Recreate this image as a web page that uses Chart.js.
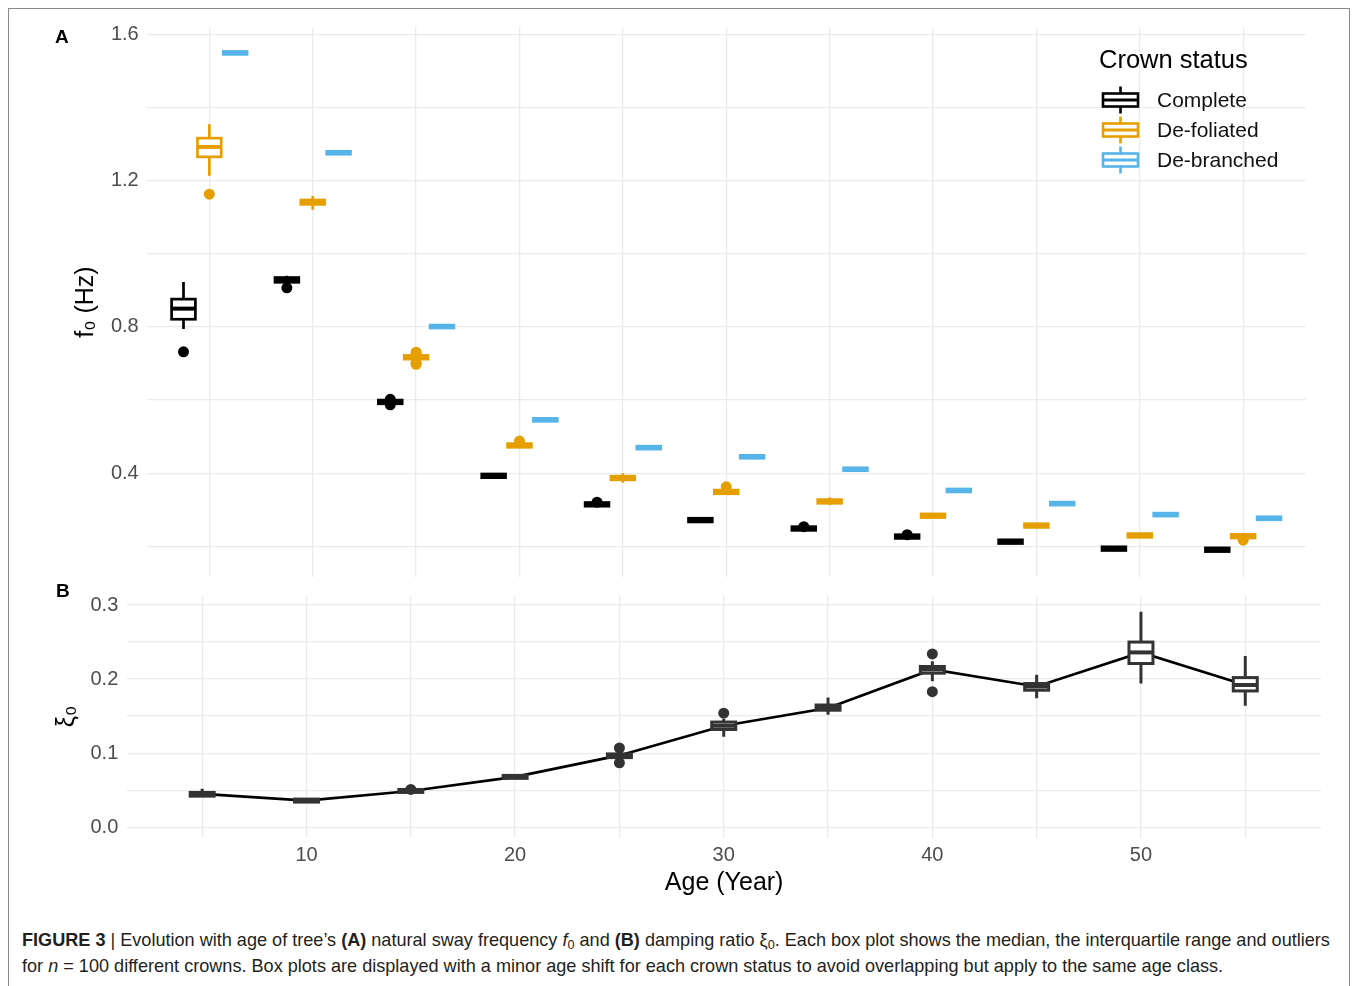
<!DOCTYPE html>
<html>
<head>
<meta charset="utf-8">
<title>Crown status: sway frequency and damping with age</title>
<script src="https://cdn.jsdelivr.net/npm/chart.js@4.4.1/dist/chart.umd.min.js"></script>
<style>
  html, body { margin: 0; padding: 0; background: #fff; width: 1357px; height: 986px; overflow: hidden; }
  #frame { position: absolute; left: 8px; top: 8px; width: 1342px; height: 1200px; border: 1px solid #8a8a8a; box-sizing: border-box; }
  canvas { position: absolute; left: 0; }
  #cA { top: 0; }
  #cB { top: 585px; }
  .tag { position: absolute; font: bold 19px "Liberation Sans", Arial, sans-serif; line-height: 19px; color: #000; }
  #caption { position: absolute; left: 22px; top: 927px; width: 1330px; white-space: nowrap;
             font: 18.1px "Liberation Sans Narrow", "Liberation Sans", Arial, sans-serif; line-height: 26px; color: #231f20; }
  #caption sub { font-size: 70%; line-height: 0; vertical-align: -0.25em; }
</style>
</head>
<body>
<div id="frame"></div>
<canvas id="cA" width="1357" height="585"></canvas>
<canvas id="cB" width="1357" height="315"></canvas>
<div class="tag" style="left:55px;top:27px;">A</div>
<div class="tag" style="left:56px;top:581px;">B</div>
<div id="caption"><b>FIGURE 3</b> | Evolution with age of tree’s <b>(A)</b> natural sway frequency <i>f</i><sub>0</sub> and <b>(B)</b> damping ratio ξ<sub>0</sub>. Each box plot shows the median, the interquartile range and outliers<br>for <i>n</i> = 100 different crowns. Box plots are displayed with a minor age shift for each crown status to avoid overlapping but apply to the same age class.</div>

<script>
// ---- Age classes and axis ticks ----
const ages = [5, 10, 15, 20, 25, 30, 35, 40, 45, 50, 55];
const ageTicks = [5, 10, 15, 20, 25, 30, 35, 40, 45, 50, 55];
const ageTickLabels = ['', '10', '', '20', '', '30', '', '40', '', '50', ''];
const f0Ticks = [0.2, 0.4, 0.6, 0.8, 1.0, 1.2, 1.4, 1.6];
const f0TickLabels = ['', '0.4', '', '0.8', '', '1.2', '', '1.6'];
const dampTicks = [0, 0.05, 0.1, 0.15, 0.2, 0.25, 0.3];
const dampTickLabels = ['0.0', '', '0.1', '', '0.2', '', '0.3'];

const seriesNames = ['Complete', 'De-foliated', 'De-branched'];

// ---- Natural sway frequency f0 (Hz): box plot summaries per crown status ----
const completeMed = [0.850, 0.928, 0.595, 0.393, 0.315, 0.272, 0.249, 0.227, 0.213, 0.194, 0.191];
const completeQ1  = [0.821, 0.922, 0.590, 0.388, 0.310, 0.267, 0.244, 0.222, 0.208, 0.189, 0.186];
const completeQ3  = [0.876, 0.935, 0.600, 0.398, 0.320, 0.277, 0.254, 0.232, 0.218, 0.199, 0.196];
const completeLo  = [0.794, 0.918, 0.588, 0.386, 0.308, 0.265, 0.242, 0.220, 0.206, 0.187, 0.184];
const completeHi  = [0.923, 0.940, 0.601, 0.400, 0.321, 0.279, 0.256, 0.233, 0.220, 0.201, 0.198];
const completeOut = [[5, 0.732], [10, 0.907], [15, 0.602], [15, 0.587], [25, 0.321], [35, 0.254], [40, 0.232]];

const defoliatedMed = [1.292, 1.141, 0.717, 0.476, 0.387, 0.349, 0.323, 0.284, 0.257, 0.230, 0.228];
const defoliatedQ1  = [1.265, 1.135, 0.712, 0.471, 0.382, 0.344, 0.318, 0.279, 0.252, 0.225, 0.223];
const defoliatedQ3  = [1.316, 1.147, 0.722, 0.481, 0.392, 0.354, 0.328, 0.289, 0.262, 0.235, 0.233];
const defoliatedLo  = [1.213, 1.120, 0.710, 0.469, 0.374, 0.342, 0.313, 0.277, 0.250, 0.223, 0.221];
const defoliatedHi  = [1.354, 1.158, 0.724, 0.483, 0.400, 0.356, 0.334, 0.291, 0.264, 0.237, 0.235];
const defoliatedOut = [[5, 1.163], [15, 0.731], [15, 0.726], [15, 0.703], [15, 0.698], [20, 0.488], [30, 0.363], [55, 0.217]];

const debranchedMed = [1.549, 1.276, 0.801, 0.546, 0.470, 0.445, 0.411, 0.353, 0.317, 0.287, 0.277];
const debranchedQ1  = [1.545, 1.272, 0.797, 0.542, 0.466, 0.441, 0.407, 0.349, 0.313, 0.283, 0.273];
const debranchedQ3  = [1.553, 1.280, 0.805, 0.550, 0.474, 0.449, 0.415, 0.357, 0.321, 0.291, 0.281];
const debranchedLo  = [1.543, 1.270, 0.795, 0.540, 0.464, 0.439, 0.405, 0.347, 0.311, 0.281, 0.271];
const debranchedHi  = [1.555, 1.282, 0.807, 0.552, 0.476, 0.451, 0.417, 0.359, 0.323, 0.293, 0.283];
const debranchedOut = [];

// ---- Damping ratio xi0: box plot summaries (all crowns) ----
const dampMed = [0.045, 0.036, 0.049, 0.068, 0.097, 0.137, 0.161, 0.213, 0.190, 0.236, 0.192];
const dampQ1  = [0.042, 0.034, 0.047, 0.066, 0.094, 0.132, 0.158, 0.208, 0.185, 0.221, 0.184];
const dampQ3  = [0.047, 0.038, 0.051, 0.070, 0.099, 0.142, 0.165, 0.217, 0.194, 0.250, 0.202];
const dampLo  = [0.041, 0.033, 0.046, 0.065, 0.092, 0.122, 0.152, 0.197, 0.174, 0.194, 0.164];
const dampHi  = [0.052, 0.039, 0.052, 0.071, 0.101, 0.146, 0.175, 0.224, 0.206, 0.291, 0.231];
const dampOut = [[15, 0.051], [25, 0.107], [25, 0.087], [30, 0.154], [40, 0.234], [40, 0.183]];

// ---- Styling ----
const FONT = '"Liberation Sans", Arial, Helvetica, sans-serif';
const GRID = '#ebebeb';
const TICK_COLOR = '#4d4d4d';
const colors = ['#000000', '#E69F00', '#56B4E9'];
const ageShift = [-1.25, 0, 1.25];   // dodge so the three crown statuses sit side by side

Chart.defaults.font.family = FONT;
Chart.defaults.animation = false;

const f0Groups = [
  { name: seriesNames[0], color: colors[0], shift: ageShift[0], med: completeMed, q1: completeQ1, q3: completeQ3, lo: completeLo, hi: completeHi, out: completeOut },
  { name: seriesNames[1], color: colors[1], shift: ageShift[1], med: defoliatedMed, q1: defoliatedQ1, q3: defoliatedQ3, lo: defoliatedLo, hi: defoliatedHi, out: defoliatedOut },
  { name: seriesNames[2], color: colors[2], shift: ageShift[2], med: debranchedMed, q1: debranchedQ1, q3: debranchedQ3, lo: debranchedLo, hi: debranchedHi, out: debranchedOut }
];
const dampGroups = [
  { name: 'all', color: '#333333', shift: 0, med: dampMed, q1: dampQ1, q3: dampQ3, lo: dampLo, hi: dampHi, out: dampOut }
];

// Box plots (whiskers, IQR box, median) drawn through the chart's own scales
function boxLayer(id, groups, cfg) {
  function draw(chart) {
    const ctx = chart.ctx, xs = chart.scales.x, ys = chart.scales.y;
    ctx.save();
    ctx.lineJoin = 'miter';
    ctx.lineCap = 'butt';
    groups.forEach(g => {
      ctx.strokeStyle = g.color;
      g.med.forEach((m, i) => {
        const age = ages[i] + g.shift;
        const xc = xs.getPixelForValue(age);
        const xl = xs.getPixelForValue(age - cfg.boxWidth / 2);
        const xr = xs.getPixelForValue(age + cfg.boxWidth / 2);
        const yLo = ys.getPixelForValue(g.lo[i]);
        const yHi = ys.getPixelForValue(g.hi[i]);
        const yQ1 = ys.getPixelForValue(g.q1[i]);
        const yQ3 = ys.getPixelForValue(g.q3[i]);
        const yM = ys.getPixelForValue(m);
        ctx.lineWidth = cfg.lineWidth;
        ctx.beginPath();
        ctx.moveTo(xc, yHi); ctx.lineTo(xc, yQ3);
        ctx.moveTo(xc, yQ1); ctx.lineTo(xc, yLo);
        ctx.stroke();
        ctx.fillStyle = '#ffffff';
        ctx.fillRect(xl, yQ3, xr - xl, yQ1 - yQ3);
        ctx.strokeRect(xl, yQ3, xr - xl, yQ1 - yQ3);
        ctx.lineWidth = cfg.medianWidth;
        ctx.beginPath();
        ctx.moveTo(xl, yM); ctx.lineTo(xr, yM);
        ctx.stroke();
      });
    });
    ctx.restore();
  }
  return {
    id,
    beforeDatasetsDraw(chart) { if (cfg.afterIndex == null) draw(chart); },
    afterDatasetDraw(chart, args) { if (cfg.afterIndex === args.index) draw(chart); }
  };
}

// Legend with box plot keys
const crownLegend = {
  id: 'crownLegend',
  afterDraw(chart) {
    const ctx = chart.ctx;
    const x0 = 1099, titleY = 61, firstY = 100, step = 30;
    ctx.save();
    ctx.textBaseline = 'middle';
    ctx.textAlign = 'left';
    ctx.fillStyle = '#000';
    ctx.font = '25.5px ' + FONT;
    ctx.fillText('Crown status', x0, titleY);
    f0Groups.forEach((g, i) => {
      const cy = firstY + i * step;
      const kx = x0 + 4, kw = 35, kh = 13, kc = kx + kw / 2;
      ctx.strokeStyle = g.color;
      ctx.lineWidth = 2.6;
      ctx.beginPath();
      ctx.moveTo(kc, cy - 13.5); ctx.lineTo(kc, cy - kh / 2);
      ctx.moveTo(kc, cy + kh / 2); ctx.lineTo(kc, cy + 13.5);
      ctx.stroke();
      ctx.fillStyle = '#fff';
      ctx.fillRect(kx, cy - kh / 2, kw, kh);
      ctx.strokeRect(kx, cy - kh / 2, kw, kh);
      ctx.lineWidth = 3;
      ctx.beginPath();
      ctx.moveTo(kx, cy); ctx.lineTo(kx + kw, cy);
      ctx.stroke();
      ctx.fillStyle = '#111';
      ctx.font = '21px ' + FONT;
      ctx.fillText(g.name, x0 + 58, cy + 1);
    });
    ctx.restore();
  }
};

function fixedTicks(values) {
  return scale => { scale.ticks = values.map(v => ({ value: v })); };
}
// Pin an axis' thickness and drop the edge padding reserved for overhanging labels
function pinSize(prop, size) {
  return scale => {
    scale[prop] = size;
    scale.paddingTop = 0; scale.paddingBottom = 0;
    scale.paddingLeft = 0; scale.paddingRight = 0;
  };
}

// ---- Panel A: f0 against age ----
new Chart(document.getElementById('cA'), {
  type: 'scatter',
  data: {
    datasets: f0Groups.map(g => ({
      label: g.name,
      data: g.out.map(([a, v]) => ({ x: a + g.shift, y: v })),
      backgroundColor: g.color,
      borderColor: g.color,
      pointRadius: 5.5,
      pointBorderWidth: 0,
      order: 0
    }))
  },
  options: {
    responsive: false,
    devicePixelRatio: 1,
    layout: { padding: { left: 0, right: 51.2, top: 27.3, bottom: 8.2 } },
    plugins: { legend: { display: false }, tooltip: { enabled: false } },
    scales: {
      x: {
        type: 'linear', min: 1.97, max: 58.03,
        afterBuildTicks: fixedTicks(ageTicks),
        afterFit: pinSize('height', 0),
        ticks: { display: false },
        grid: { color: GRID, lineWidth: 1.3, drawTicks: false },
        border: { display: false }
      },
      y: {
        type: 'linear', min: 0.117, max: 1.619,
        afterBuildTicks: fixedTicks(f0Ticks),
        afterFit: pinSize('width', 146.7),
        ticks: { callback: (v, i) => f0TickLabels[i], color: TICK_COLOR, font: { size: 20 }, padding: 8, autoSkip: false },
        grid: { color: GRID, lineWidth: 1.3, drawTicks: false },
        border: { display: false },
        title: { display: true, text: 'f₀ (Hz)', color: '#000', font: { size: 25 }, padding: { top: 71, bottom: 0 } }
      }
    }
  },
  plugins: [boxLayer('f0Boxes', f0Groups, { boxWidth: 1.15, lineWidth: 2.7, medianWidth: 4 }), crownLegend]
});

// ---- Panel B: damping ratio against age ----
new Chart(document.getElementById('cB'), {
  type: 'scatter',
  data: {
    datasets: [
      {
        type: 'line',
        label: 'median',
        data: ages.map((a, i) => ({ x: a, y: dampMed[i] })),
        borderColor: '#000',
        borderWidth: 2.6,
        pointRadius: 0,
        tension: 0,
        order: 1
      },
      {
        label: 'outliers',
        data: dampOut.map(([a, v]) => ({ x: a, y: v })),
        backgroundColor: '#333333',
        borderColor: '#333333',
        pointRadius: 5.5,
        pointBorderWidth: 0,
        order: 0
      }
    ]
  },
  options: {
    responsive: false,
    devicePixelRatio: 1,
    layout: { padding: { left: 0, right: 36, top: 10, bottom: 2 } },
    plugins: { legend: { display: false }, tooltip: { enabled: false } },
    scales: {
      x: {
        type: 'linear', min: 1.41, max: 58.63,
        afterBuildTicks: fixedTicks(ageTicks),
        afterFit: pinSize('height', 60),
        ticks: { callback: (v, i) => ageTickLabels[i], color: TICK_COLOR, font: { size: 20 }, padding: 5, maxRotation: 0, autoSkip: false },
        grid: { color: GRID, lineWidth: 1.3, drawTicks: false },
        border: { display: false },
        title: { display: true, text: 'Age (Year)', color: '#000', font: { size: 25 }, padding: { top: 0, bottom: 0 } }
      },
      y: {
        type: 'linear', min: -0.0145, max: 0.3135,
        afterBuildTicks: fixedTicks(dampTicks),
        afterFit: pinSize('width', 127.3),
        ticks: { callback: (v, i) => dampTickLabels[i], color: TICK_COLOR, font: { size: 20 }, padding: 9, autoSkip: false },
        grid: { color: GRID, lineWidth: 1.3, drawTicks: false },
        border: { display: false },
        title: { display: true, text: 'ξ₀', color: '#000', font: { size: 25 }, padding: { top: 52, bottom: 0 } }
      }
    }
  },
  plugins: [boxLayer('dampBoxes', dampGroups, { boxWidth: 1.15, lineWidth: 3, medianWidth: 4, afterIndex: 0 })]
});
</script>
</body>
</html>
